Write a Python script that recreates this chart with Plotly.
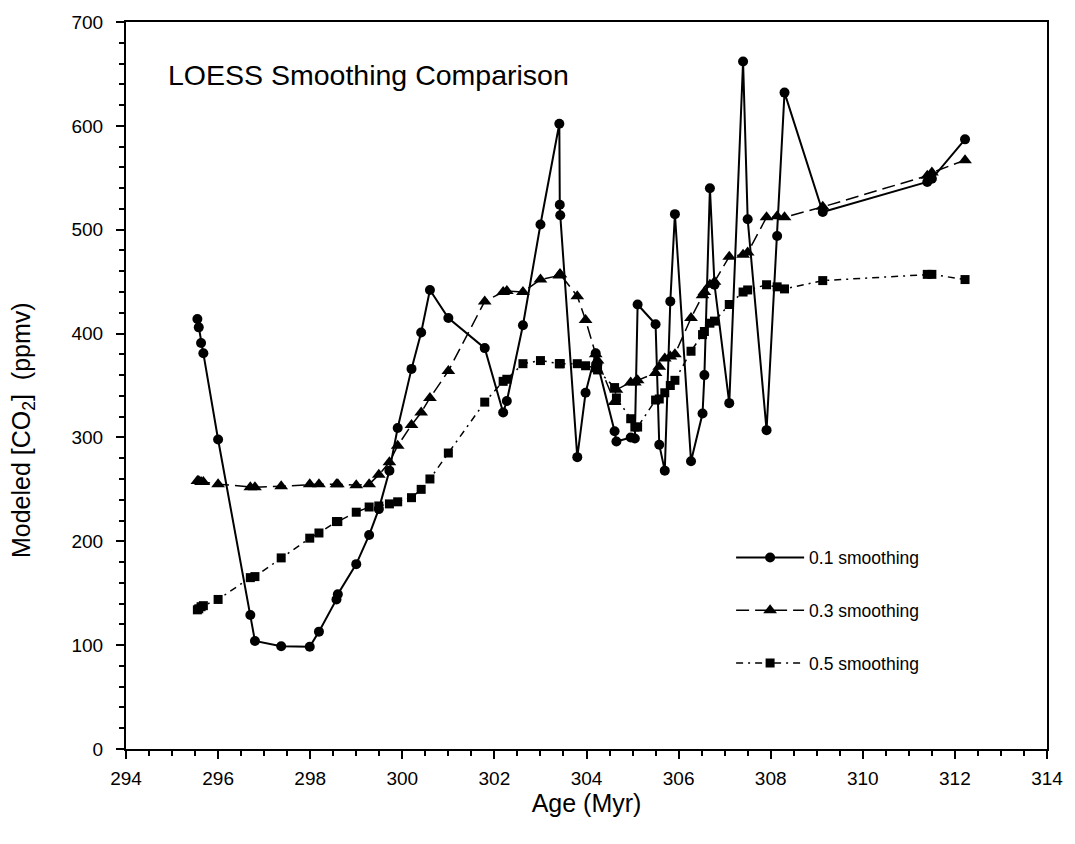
import plotly.graph_objects as go

# Ages (Myr) shared by all three LOESS curves
age = [295.55, 295.58, 295.63, 295.68, 296.0, 296.7, 296.8, 297.37, 297.99, 298.19,
       298.57, 298.6, 299.0, 299.28, 299.49, 299.72, 299.9, 300.2, 300.41, 300.6,
       301.0, 301.79, 302.19, 302.27, 302.62, 303.0, 303.41, 303.42, 303.43, 303.8,
       303.98, 304.2, 304.24, 304.61, 304.65, 304.96, 305.05, 305.11, 305.5, 305.58,
       305.7, 305.82, 305.92, 306.27, 306.52, 306.56, 306.68, 306.78, 307.1, 307.4,
       307.5, 307.91, 308.14, 308.3, 309.13, 311.4, 311.5, 312.22]

smooth_01 = [414, 406, 391, 381, 298, 129, 104, 99, 98.5, 113,
             144, 149, 178, 206, 231, 268, 309, 366, 401, 442,
             415, 386, 324, 335, 408, 505, 602, 524, 514, 281,
             343, 381, 371, 306, 296, 300, 299, 428, 409, 293,
             268, 431, 515, 277, 323, 360, 540, 447, 333, 662,
             510, 307, 494, 632, 517, 546, 549, 587]

smooth_03 = [258, 258, 257, 257, 255, 252, 252, 253, 255, 255,
             255, 255, 254, 255, 264, 276, 292, 312, 324, 338,
             364, 431, 440, 441, 440, 452, 456, 457, 457, 436,
             413, 380, 374, 334, 346, 353, 353, 355, 362, 368,
             376, 378, 380, 415, 437, 440, 447, 450, 474, 476,
             478, 512, 513, 512, 522, 552, 555, 567]

smooth_05 = [134, 135, 137, 138, 144, 165, 166, 184, 203, 208,
             219, 219, 228, 233, 234, 236, 238, 242, 250, 260,
             285, 334, 354, 356, 371, 374, 371, 371, 371, 371,
             369, 367, 365, 348, 338, 318, 310, 310, 336, 337,
             343, 350, 355, 383, 399, 402, 410, 412, 428, 440,
             442, 447, 445, 443, 451, 457, 457, 452]

series_names = ["0.1 smoothing", "0.3 smoothing", "0.5 smoothing"]

FONT = "Liberation Sans, Arial, sans-serif"

fig = go.Figure()
fig.add_trace(go.Scatter(
    x=age, y=smooth_01, name=series_names[0], mode="lines+markers", legendgroup="a",
    line=dict(color="black", width=2),
    marker=dict(symbol="circle", size=10, color="black")))
fig.add_trace(go.Scatter(
    x=age, y=smooth_03, name=series_names[1], mode="lines+markers", legendgroup="b",
    line=dict(color="black", width=1.5, dash="13px,6px"),
    marker=dict(symbol="triangle-up", size=12, color="black")))
fig.add_trace(go.Scatter(
    x=age, y=smooth_05, name=series_names[2], mode="lines+markers", legendgroup="c",
    line=dict(color="black", width=1.5, dash="7px,5px,2px,5px"),
    marker=dict(symbol="square", size=9, color="black")))

axis_common = dict(
    showline=True, linecolor="black", linewidth=2, mirror=True,
    showgrid=False, zeroline=False,
    ticks="outside", ticklen=8, tickwidth=2, tickcolor="black",
    tickfont=dict(family=FONT, size=19, color="black"),
)

fig.update_xaxes(range=[294, 314], dtick=2, tick0=294, ticklabelstandoff=3,
                 minor=dict(ticks="outside", ticklen=5, tickwidth=1.5, dtick=0.5, tickcolor="black"),
                 title=dict(text="Age (Myr)", font=dict(family=FONT, size=25, color="black"), standoff=1),
                 **axis_common)
fig.update_yaxes(range=[0, 700], dtick=100, tick0=0, ticklabelstandoff=9,
                 minor=dict(ticks="outside", ticklen=5, tickwidth=1.5, dtick=20, tickcolor="black"),
                 **axis_common)

fig.add_annotation(
    text="Modeled [CO<sub>2</sub>]  (ppmv)", xref="paper", yref="paper",
    x=-0.112, y=0.4385, textangle=-90, showarrow=False,
    xanchor="center", yanchor="middle",
    font=dict(family=FONT, size=25, color="black"))

fig.add_annotation(
    text="LOESS Smoothing Comparison", xref="paper", yref="paper",
    x=0.043, y=0.927, showarrow=False, xanchor="left", yanchor="middle",
    font=dict(family=FONT, size=28.5, color="black"))

fig.update_layout(
    width=1075, height=844,
    margin=dict(l=126, r=23, t=15, b=95),
    paper_bgcolor="white", plot_bgcolor="white",
    showlegend=True,
    legend=dict(x=0.657, y=0.288, xanchor="left", yanchor="top",
                bgcolor="rgba(0,0,0,0)", tracegroupgap=27, itemwidth=68,
                font=dict(family=FONT, size=17.5, color="black")),
)

fig.write_html("out.html")
